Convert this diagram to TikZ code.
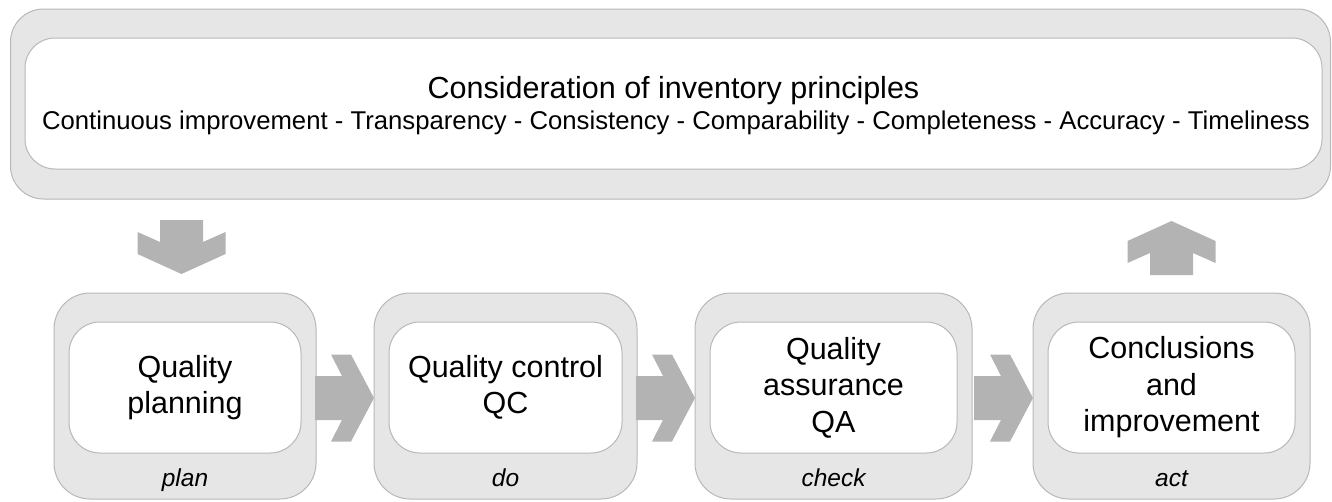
\documentclass[tikz,border=0pt]{standalone}
\usepackage{fontspec}
\setmainfont{Liberation Sans}
\definecolor{boxgray}{HTML}{E6E6E6}
\definecolor{edgegray}{HTML}{B8B8B8}
\definecolor{arrowgray}{HTML}{B3B3B3}
\tikzset{
  outerbox/.style={draw=edgegray, line width=1pt, fill=boxgray, rounded corners=36pt, inner sep=0pt, outer sep=0pt},
  innerbox/.style={draw=edgegray, line width=1pt, fill=white, rounded corners=31pt, inner sep=0pt, outer sep=0pt, align=center, font=\fontsize{30.5}{36.5}\selectfont},
  phaselabel/.style={anchor=base, inner sep=0pt, font=\fontsize{24.5}{28}\selectfont\itshape},
  rarrow/.pic={\fill[arrowgray] (-59,-22) -- (-32,-22) -- (-43,-43.5) -- (-23,-43.5) -- (0,0) -- (-23,43.5) -- (-43,43.5) -- (-32,22) -- (-59,22) -- cycle;},
  varrow/.pic={\fill[arrowgray] (-21.5,-54) -- (21.5,-54) -- (21.5,-32) -- (44,-42) -- (44,-20) -- (0,0) -- (-44,-20) -- (-44,-42) -- (-21.5,-32) -- cycle;}
}
\begin{document}
\begin{tikzpicture}[x=1pt,y=-1pt]
\useasboundingbox (0,0) rectangle (1332,501);
% top box
\node[outerbox, rounded corners=33pt, minimum width=1320pt, minimum height=190pt] (top) at (670.5,104) {};
\node[innerbox, rounded corners=30pt, minimum width=1297pt, minimum height=131pt] (topin) at (673.5,103.5) {};
\node[anchor=base, inner sep=0pt, font=\fontsize{30.5}{36}\selectfont] (title) at (673.5,98) {Consideration of inventory principles};
\node[anchor=base, inner sep=0pt, font=\fontsize{25.7}{30}\selectfont] (subtitle) at (676,129) {Continuous improvement - Transparency - Consistency - Comparability - Completeness - Accuracy - Timeliness};
% bottom boxes
\node[outerbox, minimum width=262pt, minimum height=206pt] (b1) at (185,396) {};
\node[outerbox, minimum width=263pt, minimum height=206pt] (b2) at (505.5,396) {};
\node[outerbox, minimum width=277pt, minimum height=206pt] (b3) at (833.5,396) {};
\node[outerbox, minimum width=277pt, minimum height=206pt] (b4) at (1171.5,396) {};
\node[innerbox, minimum width=232pt, minimum height=131pt] (i1) at (185,387.5) {Quality\\planning};
\node[innerbox, minimum width=233pt, minimum height=131pt] (i2) at (505.5,387.5) {Quality control\\QC};
\node[innerbox, minimum width=247pt, minimum height=131pt] (i3) at (833.5,387.5) {Quality\\assurance\\QA};
\node[innerbox, minimum width=247pt, minimum height=131pt] (i4) at (1171.5,387.5) {Conclusions\\and\\improvement};
\node[phaselabel] (l1) at (185,486) {plan};
\node[phaselabel] (l2) at (505.5,486) {do};
\node[phaselabel] (l3) at (833.5,486) {check};
\node[phaselabel] (l4) at (1171.5,486) {act};
% arrows
\pic at ([yshift=-2pt]b2.west) {rarrow};
\pic at ([yshift=-2pt]b3.west) {rarrow};
\pic at ([yshift=-2pt]b4.west) {rarrow};
\pic at ([xshift=-3.5pt,yshift=19pt]b1.north) {varrow};
\pic[rotate=180] at ([yshift=72pt]b4.north) {varrow};
\end{tikzpicture}
\end{document}
